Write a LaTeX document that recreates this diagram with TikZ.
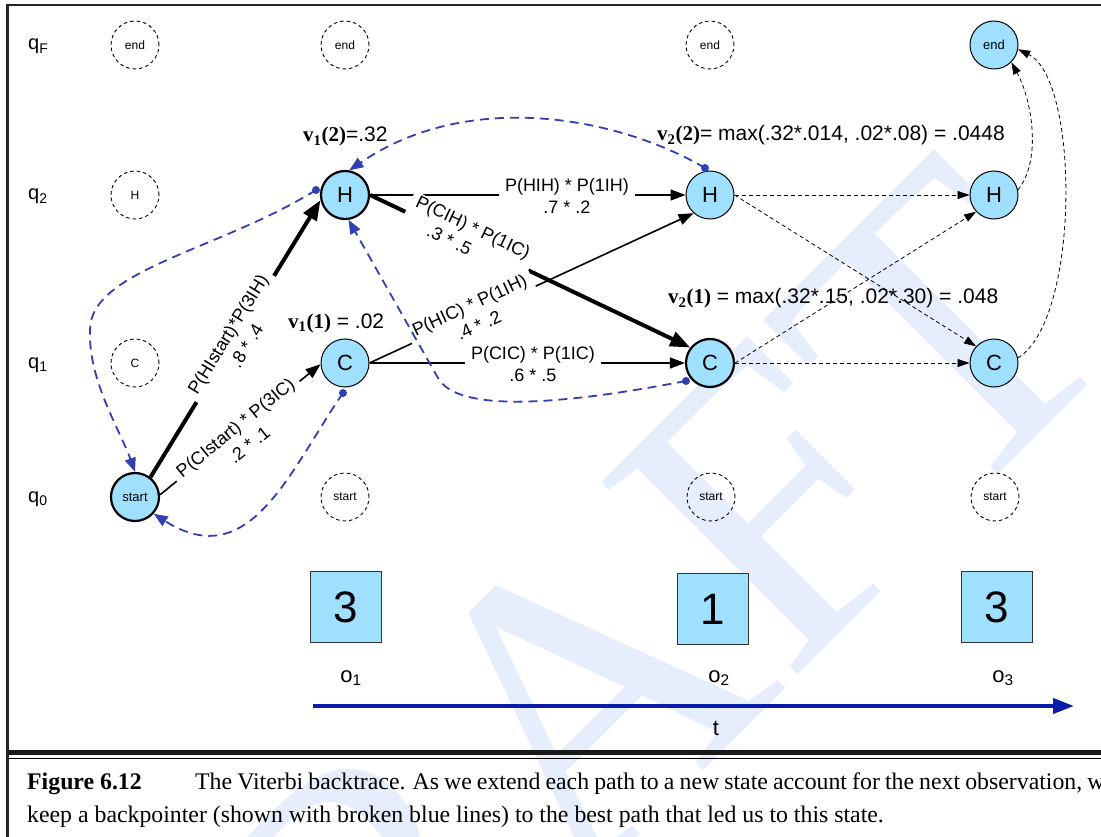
\documentclass[tikz,border=0pt]{standalone}
\usepackage{fontspec}
\setmainfont{Liberation Sans}
\newfontfamily\serif{Liberation Serif}
\usetikzlibrary{arrows.meta}
\definecolor{nodeblue}{RGB}{160,224,255}
\definecolor{bpblue}{RGB}{48,64,176}
\definecolor{tblue}{RGB}{10,28,168}
\definecolor{wmblue}{RGB}{230,237,252}
\newcommand{\fsz}[1]{\fontsize{#1}{#1}\selectfont}
\newcommand{\vsym}[2]{{\serif\bfseries v\textsubscript{#1}(#2)}}
\begin{document}
\begin{tikzpicture}[x=1pt,y=-1pt,
  st/.style={circle, draw=black, fill=nodeblue, line width=1pt, minimum size=48pt, inner sep=0pt, font=\fsz{22}},
  stk/.style={st, line width=2.2pt},
  gh/.style={circle, draw=black, line width=0.9pt, dash pattern=on 3.5pt off 3pt, minimum size=48pt, inner sep=0pt, font=\fsz{12}},
  ql/.style={font=\fsz{20}, inner sep=0pt, anchor=base west},
  vl/.style={font=\fsz{21}, inner sep=0pt, anchor=base west},
  obs/.style={draw=black!80, line width=1.4pt, fill=nodeblue, minimum width=71pt, minimum height=71pt, inner sep=0pt, font=\fsz{44}},
  olab/.style={font=\fsz{22}, inner sep=0pt, anchor=base},
  elab/.style={font=\fontsize{18}{22}\selectfont, align=center, fill=white, inner xsep=6pt, inner ysep=1pt},
  thk/.style={line width=4pt, -{Triangle[length=20pt,width=15pt]}},
  nrm/.style={line width=1.6pt, -{Triangle[length=15pt,width=11pt]}},
  dsh/.style={line width=0.8pt, dash pattern=on 4pt off 3pt, -{Triangle[length=12pt,width=8pt]}},
  bp/.style={color=bpblue, line width=1.8pt, dash pattern=on 9pt off 6pt, -{Triangle[length=14pt,width=11pt]}},
  bdot/.style={circle, fill=bpblue, inner sep=0pt, minimum size=8pt},
  capt/.style={font={\serif\fsz{23.8}}, inner sep=0pt, anchor=base west}
]
\useasboundingbox (0,0) rectangle (1101,837);
% watermark
\node[text=wmblue, rotate=45, font={\serif\fontsize{420}{420}\selectfont}, inner sep=0pt] (wmk) at (550,728) {DRAFT};
% frame
\coordinate (fTR) at (1110,5); \coordinate (fTL) at (7.5,5); \coordinate (fBL) at (7.5,845);
\draw[line width=2.5pt, black!85] (fTR) -- (fTL) -- (fBL);
\coordinate (r1a) at (7.5,752.5); \coordinate (r1b) at (1110,752.5);
\draw[line width=4.5pt, black!90] (r1a) -- (r1b);
\coordinate (r2a) at (7.5,758.5); \coordinate (r2b) at (1110,758.5);
\draw[line width=1.2pt] (r2a) -- (r2b);
% row labels
\node[ql] (qF) at (28,50) {q\textsubscript{F}};
\node[ql] (q2) at (28,200) {q\textsubscript{2}};
\node[ql] (q1) at (28,368) {q\textsubscript{1}};
\node[ql] (q0) at (28,502) {q\textsubscript{0}};
% ghost states
\node[gh] (g1e) at (135,45) {end};
\node[gh] (g2e) at (345,45) {end};
\node[gh] (g3e) at (710,45) {end};
\node[gh] (g1h) at (135,195) {H};
\node[gh] (g1c) at (135,363) {C};
\node[gh] (g2s) at (345,497) {start};
\node[gh] (g3s) at (711,497) {start};
\node[gh] (g4s) at (995,497) {start};
% real states
\node[stk, font=\fsz{13}] (start) at (135,497) {start};
\node[stk] (H1) at (345,195) {H};
\node[st] (C1) at (345,363) {C};
\node[st] (H2) at (710,195) {H};
\node[stk] (C2) at (710,363) {C};
\node[st] (H3) at (994,195) {H};
\node[st] (C3) at (994,363) {C};
\node[st, font=\fsz{13}] (end3) at (994,45) {end};
% solid edges
\draw[thk] (start.52) -- (H1.192);
\draw[nrm] (start.5) -- (C1.183);
\draw[nrm] (H1.east) -- (H2.west);
\draw[thk] (H1.east) -- (C2.142);
\draw[nrm] (C1.east) -- (H2.228);
\draw[nrm] (C1.east) -- (C2.west);
% dashed black edges
\draw[dsh] (H2.east) -- (H3.west);
\draw[dsh] (H2.east) -- (C3.137);
\draw[dsh] (C2.east) -- (H3.223);
\draw[dsh] (C2.east) -- (C3.west);
\draw[dsh] (H3.12) .. controls (1042,160) and (1032,100) .. (end3.315);
\draw[dsh] (C3.12) .. controls (1080,320) and (1080,80) .. (end3.350);
% edge labels
\node[elab, rotate=58.4] (l1) at (237,340) {P(HIstart)*P(3IH)\\.8 * .4};
\node[elab, rotate=39] (l2) at (242,436) {P(CIstart) * P(3IC)\\.2 * .1};
\node[elab] (l3) at (567,196) {P(HIH) * P(1IH)\\.7 * .2};
\node[elab, rotate=-25.5] (l4) at (468.7,237) {P(CIH) * P(1IC)\\.3 * .5\hspace*{32pt}};
\node[elab, rotate=24.8] (l5) at (474,315) {P(HIC) * P(1IH)\\.4 * .2};
\node[elab] (l6) at (533,364) {P(CIC) * P(1IC)\\.6 * .5};
% viterbi values
\node[vl] (v12) at (303,142) {\vsym{1}{2}=.32};
\node[vl] (v11) at (288,328) {\vsym{1}{1} = .02};
\node[vl] (v22) at (657,141) {\vsym{2}{2}= max(.32*.014, .02*.08) = .0448};
\node[vl] (v21) at (668,304) {\vsym{2}{1} = max(.32*.15, .02*.30) = .048};
% backpointers
\node[bdot] (d1) at (316,190) {};
\node[bdot] (d2) at (343,393) {};
\node[bdot] (d3) at (705,168) {};
\node[bdot] (d4) at (686,381) {};
\draw[bp] (d1.center) .. controls (220,250) and (90,270) .. (90,330) .. controls (88,380) and (120,430) .. (start.north);
\draw[bp] (d2.center) .. controls (290,470) and (250,575) .. (start.-42);
\draw[bp] (d3.center) .. controls (620,118) and (470,88) .. (H1.80);
\draw[bp] (d4.center) .. controls (560,405) and (458,413) .. (438,378) -- (H1.278);
% observations
\node[obs] (ob1) at (346,607) {3};
\node[obs] (ob2) at (713,609) {1};
\node[obs] (ob3) at (997,607) {3};
\node[olab] (o1) at (351,682) {o\textsubscript{1}};
\node[olab] (o2) at (719,682) {o\textsubscript{2}};
\node[olab] (o3) at (1003,682) {o\textsubscript{3}};
\coordinate (ta) at (313,706); \coordinate (tb) at (1074,706);
\draw[tblue, line width=4pt, -{Triangle[length=21pt,width=15pt]}] (ta) -- (tb);
\node[olab] (tl) at (716,735) {t};
% caption
\node[capt] (cap1) at (27,789) {\bfseries Figure 6.12};
\node[capt] (cap2) at (195,789) {\spaceskip=5.1pt The Viterbi backtrace. As we extend each path to a new state account for the next observation, we};
\node[capt] (cap3) at (27,822) {keep a backpointer (shown with broken blue lines) to the best path that led us to this state.};
\end{tikzpicture}
\end{document}
